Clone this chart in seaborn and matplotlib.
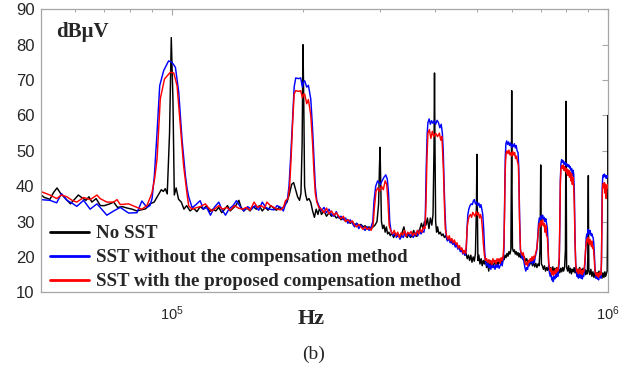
import numpy as np
import pandas as pd
import matplotlib
matplotlib.use("Agg")
import matplotlib.pyplot as plt
import seaborn as sns
from matplotlib.ticker import LogLocator, NullFormatter, FixedLocator

# (frequency in kHz, level in dBuV)
no_sst = [
    (50, 37.6), (51, 36.8), (52.5, 36.3), (53.5, 38.2), (54.5, 39.5), (55.5, 38.0), (56.5, 37.0),
    (57.5, 36.0), (58.5, 35.0), (60, 36.5), (61, 37.5), (62.5, 36.5), (63.5, 36.0), (64.5, 37.0),
    (65.5, 35.5), (67, 36.5), (68.5, 34.5), (70, 34.5), (72, 35.0), (73.5, 35.5), (75, 34.0),
    (77, 34.2), (79, 33.8), (81, 33.5), (83, 33.0), (85, 33.3), (87, 33.6), (89, 35.0), (91, 35.5),
    (93, 37.5), (94.5, 39.0), (95.5, 38.5), (96.5, 39.3), (97.5, 37.8), (98.7, 55), (99.6, 82),
    (100.5, 64), (101.2, 37.5), (102.2, 39.5), (103.5, 36.3), (105, 35.5), (106.5, 33.5), (108, 34.5),
    (110, 33), (112, 33.8), (114, 32.8), (116, 34.2), (118, 33.5), (120, 34.5), (122, 32.8),
    (124, 33.5), (126, 33), (128, 34), (130, 32.5), (132, 33.5), (134, 34.5), (136, 33), (138, 33.8),
    (140, 34.5), (142.3, 36), (144, 34), (146, 33), (148.5, 33.8), (151, 33), (153.5, 34.2),
    (156, 33.5), (158.5, 34.5), (161, 33), (163.5, 34), (166, 33.2), (168.5, 34.5), (171, 33.8),
    (173.5, 33.2), (176, 34), (178.5, 33.5), (181, 34.5), (183.5, 35.5), (186, 38), (188, 40.5),
    (190, 41), (192, 39), (194, 37), (196, 36), (197.5, 38), (198.7, 52), (199.6, 80), (200.5, 62),
    (201.3, 40), (202.5, 37.5), (204, 36), (206, 36.5), (208, 35.4), (210, 33), (212, 31.2),
    (214, 33.5), (216, 32), (218, 34), (220, 32), (223, 33), (226, 31.5), (229, 32.5), (232, 31.5),
    (235, 32), (238, 31), (241, 31.5), (244, 30.5), (247, 31), (250, 30), (253, 30.5), (256, 29.5),
    (259, 30), (262, 29), (265, 29.5), (268, 28.8), (271, 29.2), (274, 28.5), (277, 28.8),
    (280, 28.2), (283, 28.5), (286, 28), (289, 28.5), (292, 29), (295, 30), (297.5, 35),
    (298.8, 45), (299.8, 51), (300.8, 42), (302, 30), (304, 28), (306, 29), (308, 27), (310, 28.5),
    (312, 26.5), (314, 27), (316.5, 26), (319, 26.8), (322, 25.5), (325, 26.5), (328, 25.8),
    (331, 26.2), (334, 25.5), (337, 27), (340, 28.5), (343, 26), (346, 25.5), (349, 26.5),
    (352, 25.5), (355, 26), (358, 27.5), (361, 26), (364, 25.8), (367, 27), (370, 28), (373, 29.5),
    (376, 28), (379, 30), (382, 29), (385, 31), (388, 28), (391, 31), (394, 29), (396.5, 32),
    (398.5, 50), (399.6, 72), (400.7, 50), (402, 30), (404, 27), (406, 28.5), (409, 26.5), (412, 27),
    (415, 26), (418, 26.5), (421, 25.5), (424, 26), (427, 24.8), (430, 25.2), (433, 24.5), (436, 25),
    (439, 23.8), (442, 24.2), (445, 23.2), (448, 23.8), (451, 22.8), (454, 23), (457, 22),
    (460, 22.5), (463, 21.5), (466, 21.8), (469, 20.5), (472, 21), (475, 19.5), (478, 20.5),
    (481, 19), (484, 20.5), (487, 18.5), (490, 20), (493, 18.8), (496, 21), (498.7, 35), (499.8, 49),
    (500.9, 35), (502.5, 19), (505, 20.5), (508, 18), (511, 19.5), (514, 17.5), (517, 19), (520, 18),
    (523, 19.5), (526, 17), (529, 18.5), (532, 16), (535, 19), (538, 17.5), (541, 18.5), (544, 17),
    (547, 18), (550, 19), (553, 17.5), (556, 18.5), (559, 17.8), (562, 19), (565, 18.2), (568, 19.5),
    (571, 18.5), (574, 20), (577, 19.2), (580, 20.5), (583, 19.8), (586, 21), (589, 20.2),
    (592, 21.5), (595, 20.8), (598, 22), (599.8, 45), (600.6, 67), (601.5, 40), (603, 22.5),
    (606, 21.5), (609, 22), (612, 20.8), (615, 21.5), (618, 20.5), (621, 21.2), (624, 20), (627, 21),
    (630, 19.8), (634, 20.5), (638, 19.2), (642, 20), (646, 18.8), (650, 19.5), (654, 18.5),
    (658, 19), (662, 18), (666, 19), (670, 17.5), (674, 18.5), (678, 17.2), (682, 18.2), (686, 17),
    (690, 18), (694, 17.5), (697.5, 22), (699.2, 40), (700, 46), (700.8, 35), (702.5, 18),
    (706, 17.5), (710, 16.5), (714, 17.5), (718, 16), (722, 17), (726, 16.2), (730, 17.5),
    (734, 15.8), (738, 17), (742, 16), (746, 17.2), (750, 15.5), (754, 16.8), (758, 16), (762, 17),
    (766, 15.6), (770, 16.5), (774, 15.5), (778, 16.8), (782, 15.8), (786, 17), (790, 16),
    (794, 17.2), (797.5, 22), (799.2, 50), (800, 64), (800.8, 45), (802.5, 17), (807, 16),
    (811, 17.5), (815, 15.5), (819, 16.8), (823, 15.2), (827, 16.5), (831, 15.8), (835, 17),
    (839, 15.5), (843, 16.8), (847, 15), (851, 16.5), (855, 15.8), (859, 17), (863, 15.4),
    (867, 16.5), (871, 15.2), (875, 16.8), (879, 15.5), (883, 16.5), (887, 15), (891, 16),
    (895, 15.2), (897.5, 20), (899.2, 35), (900, 43), (900.8, 30), (902.5, 16), (907, 15),
    (912, 16.5), (917, 14.5), (922, 15.8), (927, 14.2), (932, 15.5), (937, 14), (942, 15.6),
    (947, 14.5), (952, 16), (957, 14.2), (962, 15.2), (967, 14), (972, 15.5), (977, 14.2),
    (982, 15.8), (986, 14.5), (990, 15.2), (994, 16), (996.5, 30), (998.5, 60), (1000, 40),
]

sst_plain = [
    (50, 36.2), (52.5, 36.0), (54.4, 35.3), (55.8, 37.9), (57.4, 36.0), (59, 35.2), (60.5, 34.3),
    (62.7, 36.0), (64.9, 33.5), (67.3, 35.0), (68.4, 34.0), (70.9, 31.8), (73.5, 33.0), (76.1, 34.0),
    (79.5, 32.4), (83.1, 32.5), (85.3, 35.8), (87.6, 34.0), (89, 34.5), (90, 36.5), (91.1, 43),
    (92.4, 55.2), (93.7, 68.4), (95.7, 72.7), (98.2, 75.4), (100, 75), (101.8, 73.6), (103.6, 66.6),
    (105.4, 53.3), (107.3, 43), (108.3, 39.2), (109.2, 37), (111.2, 33.9), (113.5, 34.8), (116, 35.9),
    (118, 33.5), (120, 34), (122.5, 31.8), (125, 34), (128, 35.5), (130, 33.5), (132.6, 31.8),
    (135, 33.5), (138, 34.5), (140.5, 35.9), (143.6, 34), (146, 33), (149, 34.2), (152, 33.5),
    (155, 34.5), (158, 33.2), (161, 35.5), (164, 34), (167, 33.5), (171.3, 33.3), (174, 34.5),
    (177.5, 34), (180, 33), (182, 35), (184, 36.5), (185.4, 40), (187, 48), (188.8, 58), (190.5, 68),
    (192.1, 70.6), (195, 70.4), (197.2, 70.6), (199, 68), (200.2, 69.5), (201.4, 69.8), (203.6, 68),
    (205.4, 68.5), (208, 64.6), (210, 56), (211.5, 48), (213, 40), (214.7, 36), (217, 34.5), (220, 33),
    (223, 34), (226, 32.5), (229, 33.5), (232, 32), (235, 31.5), (238, 32.8), (241, 31), (244, 31.5),
    (247, 30.5), (250, 31), (253, 29.5), (256, 30.5), (259, 29.5), (262, 28.5), (265, 29.5), (268, 28),
    (271, 29), (274, 28.2), (277, 27.5), (280, 28.5), (283, 27.5), (286, 28.5), (288.5, 30),
    (290.5, 36), (293, 40), (296, 41.5), (300, 40.5), (303, 41.5), (306, 42.5), (309, 43.2),
    (311.5, 42), (313.5, 38), (315.5, 30), (318, 27), (321, 26), (324, 26.8), (327, 25.5), (330, 26.5),
    (333, 25), (336, 26), (339, 25.5), (342, 27), (345, 26), (348, 26.5), (351, 25.8), (354, 26.5),
    (357, 25.5), (360, 26.2), (363, 27), (366, 26), (369, 27.5), (372, 26.5), (375, 27.2), (378, 27),
    (380.5, 30), (382.5, 45), (384.5, 55), (386, 58), (388.5, 59), (391, 57.5), (393.5, 58.5),
    (396, 57.8), (399, 58.5), (402, 57.5), (405, 58.6), (408, 58), (411, 56.5), (414, 57.5),
    (416.5, 55), (418.5, 50), (420.5, 40), (422.5, 32), (425, 26), (428, 24.5), (431, 25.5), (434, 24),
    (437, 24.8), (440, 23.5), (443, 24.2), (446, 22.8), (449, 23.5), (452, 22.2), (455, 22.8),
    (458, 21.5), (461, 22), (464, 20.8), (467, 21.5), (470, 20.5), (472.5, 22), (474.5, 28),
    (476.5, 32), (479, 33.5), (482, 34.5), (485, 35), (488, 34.8), (490.5, 35.8), (493, 36.2),
    (496, 35), (499, 35.5), (502, 34.5), (505, 35.2), (508, 34), (510.5, 34.8), (513, 33.5),
    (515.5, 32), (518, 28), (520.5, 22), (523, 19), (526, 17.5), (529, 18.2), (532, 17), (535, 17.8),
    (538, 16.5), (541, 18), (544, 17), (547, 17.5), (550, 16.5), (553, 18), (556, 17), (559, 17.8),
    (562, 16.8), (565, 17.5), (568, 18.5), (571, 17.5), (574, 19), (576.5, 22), (578.5, 35),
    (580.5, 48), (582.5, 52), (585, 52.8), (588, 51.8), (591, 52.5), (594, 51.5), (597, 52.2),
    (600, 51), (603, 51.8), (606, 51.2), (609, 52), (612, 50.8), (615, 51.5), (618, 50), (621, 49.5),
    (623.5, 45), (626, 32), (629, 22), (632, 20.5), (635, 19.5), (638, 20), (641, 18.5), (644, 17),
    (647, 16), (650, 17), (653, 16.5), (656, 18), (659, 17.5), (662, 19), (665, 18.5), (668, 19.5),
    (671, 18), (674, 19.5), (677, 18.5), (680, 20), (683, 21), (686, 22), (689, 26), (692, 29.5),
    (695, 31), (698, 30.5), (701, 31.6), (704, 30.8), (707, 31.8), (710, 30.5), (713, 31.2),
    (716, 30), (719, 30.8), (722, 29.5), (725, 28), (727.5, 24), (730, 18), (733, 15.5), (736, 14.5),
    (739, 15.5), (742, 13.5), (745, 14.2), (748, 13), (751, 14.5), (754, 13.8), (757, 15),
    (760, 14.2), (763, 15.5), (766, 14.5), (769, 16), (772, 19), (774.5, 30), (776.5, 42),
    (779, 46.5), (782, 47.5), (785, 46.8), (788, 47.2), (791, 46.2), (794, 46.8), (797, 46),
    (800, 46.5), (803, 45.8), (806, 46.2), (809, 45.5), (812, 46), (815, 45.2), (818, 45.5),
    (821, 44.5), (824, 45), (827, 43), (830, 44.5), (833, 43.5), (836, 38), (839, 25), (842, 18),
    (845, 15.5), (848, 14.5), (851, 15.2), (854, 14), (857, 15), (860, 14.2), (863, 15.5), (866, 14),
    (869, 14.8), (872, 13.8), (875, 15), (878, 14.5), (881, 15.8), (884, 18), (887, 22), (890, 25.5),
    (893, 26.5), (896, 26), (899, 27.8), (902, 27), (905, 26.5), (908, 27.5), (911, 26.8), (914, 26),
    (917, 26.5), (920, 25.8), (923, 25.5), (926, 24), (929, 21), (932, 17), (935, 15), (938, 14),
    (941, 14.8), (944, 13.8), (947, 14.5), (950, 13.5), (953, 14.8), (956, 14.2), (959, 15),
    (962, 14), (964.5, 18), (966.5, 30), (968.5, 40), (971, 42.5), (974, 43.2), (977, 42.6),
    (980, 43.4), (983, 42.8), (986, 43), (989, 42.2), (992, 43), (995, 42.5), (998, 42.8), (1000, 42.5),
]

sst_comp = [
    (50, 38.5), (52.5, 37.5), (54.4, 36.5), (55.8, 37.5), (57.4, 37.0), (59, 36.0), (60.5, 35.5),
    (62.7, 36.8), (64.9, 36.2), (67.3, 37.5), (68.4, 36.5), (70.9, 35.5), (73.5, 35.5), (74.8, 36.2),
    (76.1, 34.8), (79.5, 35.0), (83.1, 34.0), (85.3, 33.5), (87.6, 34.5), (89.9, 38), (91.2, 42),
    (92.4, 47.7), (94, 64.7), (96.1, 70.3), (99.1, 72.2), (100.9, 72), (102.7, 68.4), (104.5, 57),
    (106.3, 45.8), (108.2, 38), (109.2, 34.4), (111.2, 33.5), (113.5, 33.9), (116, 34.2), (119.2, 35),
    (121, 34), (123.5, 33), (126, 33.8), (128, 34.5), (130.5, 33.5), (133.5, 34), (136, 33.2),
    (139, 34.5), (142, 33.8), (145, 33.5), (148, 34), (151, 33.2), (154.2, 35.5), (157, 34),
    (160, 34.5), (163, 33.8), (165, 35.5), (168, 34.5), (171.3, 34), (174, 33.5), (177.5, 33.3),
    (180, 34), (182, 35.9), (184.5, 36.5), (186, 40), (187.5, 48), (189, 58), (190.5, 66),
    (192.1, 67), (195, 66.8), (197.2, 67), (199, 65), (200.2, 66), (201.4, 66), (203.6, 63.3),
    (205.4, 64.5), (208, 60), (210, 52), (211.5, 44), (213, 38), (214.7, 35.5), (217, 34),
    (220, 33.5), (223, 32.5), (226, 33.8), (229, 32.2), (232, 33), (235, 31.8), (238, 32.5),
    (241, 31.5), (244, 30.8), (247, 31.5), (250, 30), (253, 30.5), (256, 29.8), (259, 30.2), (262, 29),
    (265, 28.5), (268, 29.2), (271, 28.5), (274, 27.8), (277, 28.5), (280, 27.8), (283, 28.2),
    (286, 27.5), (289, 29), (291, 34), (293.5, 38.5), (296, 39.5), (299, 38.5), (302, 40), (305, 39),
    (308, 41.5), (310.5, 40.5), (312.5, 36), (314.5, 29), (317, 27.5), (320, 26.5), (323, 27.5),
    (326, 26), (329, 27), (332, 25.5), (335, 26.8), (338, 26.2), (341, 27.5), (344, 25.8), (347, 27),
    (350, 26.5), (353, 27.2), (356, 26), (359, 26.8), (362, 26.2), (365, 27.5), (368, 26.5),
    (371, 27.8), (374, 27), (377, 28.5), (380, 28), (382, 35), (384, 48), (386, 55), (389, 56),
    (392, 53.5), (395, 55.5), (398, 54), (402, 55), (406, 54), (410, 55), (413, 53), (415.5, 54),
    (417, 50), (419, 44), (421, 35), (423, 28), (426, 26), (429, 25), (432, 26), (435, 24.5),
    (438, 25.2), (441, 24), (444, 24.8), (447, 23.5), (450, 24), (453, 22.5), (456, 23.2), (459, 22),
    (462, 22.5), (465, 21), (468, 21.8), (471, 21), (473, 24), (475, 28.5), (477.5, 30.5),
    (480, 31.5), (483, 32), (486, 31.2), (489, 32.6), (492, 32), (495, 31.5), (498, 32.8),
    (501, 31.8), (504, 32.5), (507, 31), (509.5, 32), (512, 31), (514.5, 28), (517, 24), (520, 20.5),
    (523, 19), (526, 19.5), (529, 18.5), (532, 19.2), (535, 18.2), (538, 19), (541, 17.8),
    (544, 19.5), (547, 18.5), (550, 19), (553, 18), (556, 19.5), (559, 18.8), (562, 19.5),
    (565, 18.2), (568, 19.8), (571, 19), (574, 20), (576.5, 24), (578.5, 33), (580, 43), (581.5, 47),
    (583.5, 49.5), (586, 50), (589, 49.2), (592, 50.2), (595, 48.8), (598, 49.5), (601, 48.5),
    (604, 49.8), (607, 48.8), (610, 49.5), (613, 47.8), (616, 48.5), (619, 47), (622, 46), (624, 40),
    (626, 30), (629, 22), (632, 21), (635, 20.5), (638, 21.2), (641, 20), (644, 18.5), (647, 17.8),
    (650, 18.5), (653, 17.5), (656, 19), (659, 18.5), (662, 19.5), (665, 18.8), (668, 20), (671, 19),
    (674, 20.2), (677, 19.5), (680, 20.5), (683, 21.5), (686, 22.5), (689, 25), (692, 28),
    (695, 29.5), (698, 28.5), (701, 30.2), (704, 29), (707, 30.5), (710, 28.8), (713, 29.5),
    (716, 27), (719, 29), (722, 26), (725, 25.5), (727.5, 22), (730, 18.5), (733, 17), (736, 16),
    (739, 16.8), (742, 15), (745, 16), (748, 14.8), (751, 16), (754, 15.2), (757, 16.5), (760, 15.5),
    (763, 16.8), (766, 16), (769, 17.5), (772, 20), (774.5, 32), (776.5, 41), (779, 45), (782, 45.8),
    (785, 45), (788, 46), (791, 44.5), (794, 45.5), (797, 44.2), (800, 45), (803, 43.5), (806, 44.8),
    (809, 43), (812, 44.5), (815, 42.5), (818, 44), (821, 41.5), (824, 43.5), (827, 40.5),
    (830, 42.5), (833, 40), (836, 34), (839, 24), (842, 18), (845, 16.5), (848, 15.8), (851, 16.5),
    (854, 15.2), (857, 16.2), (860, 15.5), (863, 16.8), (866, 15.2), (869, 16), (872, 15),
    (875, 16.2), (878, 15.8), (881, 17), (884, 19), (887, 22), (890, 24), (893, 25), (896, 24.2),
    (899, 25.5), (902, 24.8), (905, 23.5), (908, 25), (911, 24), (914, 23), (917, 24.5), (920, 22.5),
    (923, 23), (926, 21.5), (929, 19), (932, 16), (935, 15.2), (938, 14.8), (941, 15.5), (944, 14.5),
    (947, 15.2), (950, 14.2), (953, 15.5), (956, 14.8), (959, 15.6), (962, 15), (964.5, 19),
    (966.5, 29), (968.5, 37), (971, 40), (974, 40.8), (977, 39.5), (980, 41), (983, 38), (986, 40.5),
    (989, 36.5), (992, 40.2), (995, 39.5), (998, 40.5), (1000, 40),
]

labels = ["No SST", "SST without the compensation method",
          "SST with the proposed compensation method"]
colors = ["black", "#0000ff", "#ff0000"]

frames = []
for name, pts in zip(labels, [no_sst, sst_plain, sst_comp]):
    d = pd.DataFrame(pts, columns=["khz", "level"])
    d["Hz"] = d["khz"] * 1000
    d["series"] = name
    frames.append(d)
df = pd.concat(frames, ignore_index=True)

sns.set_theme(style="white")
plt.rcParams["font.family"] = ["Liberation Sans", "DejaVu Sans"]
plt.rcParams["mathtext.fontset"] = "custom"
plt.rcParams["mathtext.rm"] = "Liberation Sans"
plt.rcParams["mathtext.it"] = "Liberation Sans"

fig = plt.figure(figsize=(6.41, 3.70), dpi=100)
ax = fig.add_axes([40.7 / 641, 1 - 292.3 / 370, 567.6 / 641, 283 / 370])

sns.lineplot(data=df, x="Hz", y="level", hue="series", hue_order=labels,
             palette=colors, estimator=None, sort=False, lw=1.05, ax=ax)

ax.set_xscale("log")
ax.set_xlim(5e4, 1e6)
ax.set_ylim(10, 90)
ax.set_yticks(range(10, 91, 10))
ax.xaxis.set_major_locator(FixedLocator([1e5, 1e6]))
ax.xaxis.set_minor_locator(LogLocator(base=10, subs=np.arange(2, 10)))
ax.xaxis.set_minor_formatter(NullFormatter())
ax.set_xlabel("")
ax.set_ylabel("")

for s in ax.spines.values():
    s.set_color("#a6a6a6")
    s.set_linewidth(0.9)
ax.tick_params(which="both", direction="in", top=True, right=True,
               color="#a6a6a6", labelcolor="#262626")
ax.tick_params(which="major", length=4, width=0.8)
ax.tick_params(which="minor", length=2.5, width=0.7)
ax.tick_params(axis="y", pad=4.5, labelsize=12)
ax.tick_params(axis="x", pad=9, labelsize=10.5)

leg = ax.legend(loc="lower left", bbox_to_anchor=(7 / 567.6, 0.0), frameon=False,
                borderpad=0, borderaxespad=0.1, handlelength=2.1, handletextpad=0.35,
                labelspacing=0.36, prop={"family": "Liberation Serif", "weight": "bold",
                                         "size": 13.6})
for h in leg.get_lines():
    h.set_linewidth(2.0)

ax.text((56 - 40.7) / 567.6, (292.3 - 37.3) / 283, "dBμV", transform=ax.transAxes,
        ha="left", va="baseline", family="Liberation Serif", weight="bold", fontsize=15)
fig.text(298 / 641, 1 - 324.5 / 370, "Hz", ha="left", va="baseline",
         family="Liberation Serif", weight="bold", fontsize=16)
fig.text(302 / 641, 1 - 359 / 370, "(b)", ha="left", va="baseline",
         family="Liberation Serif", fontsize=14)

fig.savefig("out.png", dpi=100)
